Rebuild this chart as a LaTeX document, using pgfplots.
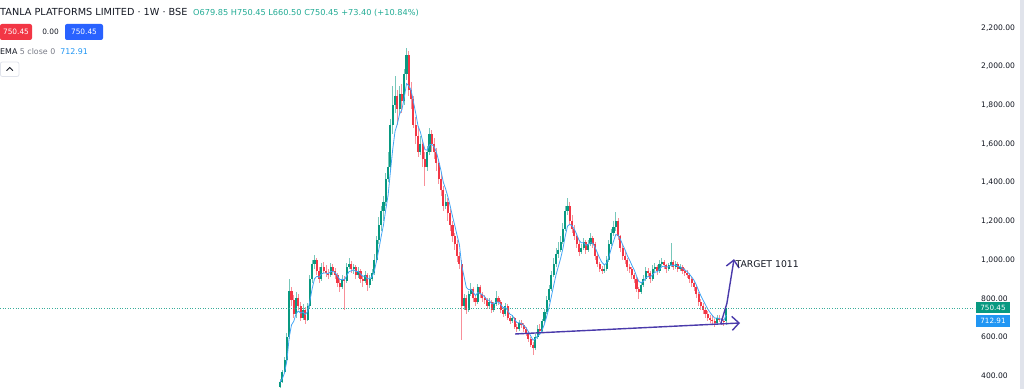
\documentclass[border=0pt]{standalone}
\usepackage{pgfplots}
\pgfplotsset{compat=1.18}
\usepackage{pgfplotstable}
\usepackage{fontspec}
\setmainfont{DejaVu Sans}
\usetikzlibrary{arrows.meta}
\definecolor{cgreen}{HTML}{089981}
\definecolor{cred}{HTML}{F23645}
\definecolor{tvtext}{HTML}{131722}
\definecolor{tvgray}{HTML}{787B86}
\definecolor{ohlc}{HTML}{22AB94}
\definecolor{emablue}{HTML}{42A5F5}
\definecolor{boxblue}{HTML}{2962FF}
\definecolor{lblblue}{HTML}{2196F3}
\definecolor{strip}{HTML}{E0E3EB}
\definecolor{pen}{HTML}{4A3AAB}

\pgfplotstableread{
o h l c e
340 380 335 365 365
365 430 360 420 383
420 495 415 480 415
480 620 470 600 477
600 900 590 840 598
840 860 760 790 662
790 815 700 720 681
720 830 700 800 721
800 820 740 760 734
760 780 680 700 723
700 770 690 740 729
740 755 665 690 716
690 775 680 760 731
760 920 750 900 787
900 1000 880 980 851
980 1025 950 1000 901
1000 1010 920 940 914
940 960 880 900 909
900 985 890 960 926
960 990 930 940 931
940 970 910 930 931
930 950 900 920 927
920 985 910 960 938
960 975 920 940 939
940 955 900 920 933
920 930 860 880 915
880 895 830 860 897
860 920 850 900 898
900 915 740 890 895
890 985 880 960 917
960 1010 950 980 938
980 995 930 950 942
950 975 925 960 948
960 970 900 920 939
920 960 905 940 939
940 950 880 900 926
900 915 860 890 914
890 940 880 920 916
920 930 840 870 901
870 920 855 900 901
900 950 890 930 911
930 1030 920 1000 941
1000 1120 990 1100 994
1100 1220 1080 1180 1056
1180 1280 1150 1250 1121
1250 1330 1200 1300 1181
1300 1450 1280 1420 1261
1420 1560 1400 1480 1334
1480 1730 1460 1700 1456
1700 1900 1650 1800 1571
1800 1950 1760 1850 1664
1850 1880 1700 1780 1703
1780 1900 1750 1860 1755
1860 1910 1760 1820 1777
1820 1990 1800 1960 1838
1960 2095 1930 2060 1912
2060 2080 1850 1880 1901
1880 1920 1780 1830 1877
1830 1850 1680 1700 1818
1700 1740 1600 1640 1759
1640 1680 1530 1560 1693
1560 1640 1540 1600 1662
1600 1620 1480 1520 1615
1520 1560 1380 1480 1570
1480 1590 1460 1560 1567
1560 1680 1540 1650 1595
1650 1670 1560 1600 1597
1600 1630 1520 1560 1585
1560 1580 1460 1500 1557
1500 1520 1390 1420 1511
1420 1450 1330 1360 1461
1360 1380 1250 1280 1401
1280 1340 1260 1300 1367
1300 1320 1200 1240 1325
1240 1260 1150 1180 1277
1180 1200 1090 1120 1225
1120 1140 1050 1080 1177
1080 1100 990 1020 1125
1020 1040 950 980 1077
980 1000 585 760 971
760 820 740 800 914
800 815 720 740 856
740 840 730 820 844
820 880 810 850 846
850 860 780 800 831
800 815 760 780 814
780 875 770 860 829
860 870 800 820 826
820 830 780 800 817
800 815 770 790 808
790 800 745 760 792
760 800 750 780 788
780 790 725 740 772
740 780 730 770 771
770 840 760 800 781
800 810 765 780 781
780 790 725 740 767
740 750 705 720 751
720 775 710 760 754
760 770 690 700 736
700 710 665 680 717
680 715 670 700 711
700 705 640 650 691
650 665 625 640 674
640 690 630 670 673
670 685 645 660 669
660 670 625 640 659
640 650 605 620 646
620 630 575 590 627
590 600 545 560 605
560 575 505 540 583
540 615 530 600 589
600 660 590 640 606
640 665 615 630 614
630 695 625 680 636
680 745 670 730 667
730 810 720 790 708
790 870 780 850 755
850 940 840 920 810
920 1010 910 980 867
980 1060 960 1030 921
1030 1090 1010 1050 964
1050 1120 1040 1090 1006
1090 1190 1080 1160 1057
1160 1280 1150 1250 1121
1250 1320 1230 1280 1174
1280 1300 1180 1200 1183
1200 1230 1140 1160 1175
1160 1180 1100 1120 1157
1120 1140 1060 1080 1131
1080 1100 1020 1040 1101
1040 1080 1030 1060 1087
1060 1110 1050 1090 1088
1090 1100 1030 1050 1075
1050 1100 1040 1080 1077
1080 1140 1070 1110 1088
1110 1120 1060 1080 1085
1080 1090 1000 1020 1063
1020 1030 960 980 1035
980 990 935 950 1007
950 965 925 940 985
940 970 930 950 973
950 1020 940 1000 982
1000 1100 990 1080 1015
1080 1160 1070 1140 1057
1140 1200 1120 1170 1095
1170 1245 1150 1200 1130
1200 1215 1100 1120 1127
1120 1130 1040 1060 1105
1060 1080 1000 1020 1077
1020 1040 980 1000 1051
1000 1010 940 960 1021
960 975 930 950 997
950 960 900 920 971
920 930 880 900 947
900 910 830 850 915
850 860 795 830 887
830 880 820 870 881
870 920 860 900 887
900 960 890 940 905
940 955 910 930 913
930 940 880 900 909
900 970 890 950 923
950 985 935 960 935
960 970 920 940 937
940 1000 930 980 951
980 1010 965 990 964
990 1000 950 970 966
970 975 930 950 961
950 985 940 970 964
970 1085 960 990 973
990 1000 945 960 969
960 995 950 980 973
980 990 935 950 965
950 975 940 960 963
960 970 925 940 955
940 955 915 930 947
930 945 905 920 938
920 930 880 900 925
900 910 860 880 910
880 890 840 860 893
860 870 800 820 869
820 830 760 780 839
780 795 740 760 813
760 775 720 740 789
740 755 700 720 766
720 735 680 700 744
700 715 670 690 726
690 710 660 680 711
680 695 650 670 697
670 715 660 700 698
700 715 675 690 695
690 700 660 680 690
680 695 655 677.05 686
679.85 750.45 660.5 750.45 713
}\candles

\begin{document}
\begin{tikzpicture}[x=1pt,y=1pt]
\useasboundingbox (0,0) rectangle (1024,389);
\fill[strip] (1020,0) rectangle (1024,389);
\begin{axis}[
  at={(0,0)}, anchor=south west, scale only axis,
  width=975pt, height=389pt,
  xmin=-121.74, xmax=302.17, ymin=330, ymax=2345,
  axis line style={draw=none}, tick style={draw=none},
  major tick length=0pt,
  xtick=\empty,
  ytick={400,600,...,2200},
  yticklabel pos=right,
  yticklabel style={anchor=west, xshift=6pt, inner sep=0pt, font=\fontsize{7.6}{9}\selectfont, text=tvtext},
  /pgf/number format/.cd, fixed, fixed zerofill, precision=2, 1000 sep={,}, assume math mode=true,
]
\pgfplotsset{candle/.style={only marks, mark=*, mark size=0pt, mark options={draw opacity=0, fill opacity=0}, forget plot}}
% wicks
\addplot[candle, error bars/.cd, y dir=both, y explicit, error mark=none,
  error bar style={line width=0.9pt, draw=cgreen!55}]
  table[x expr=\coordindex, y expr={\thisrow{c}>=\thisrow{o} ? \thisrow{c} : nan},
        y error plus expr=\thisrow{h}-\thisrow{c}, y error minus expr=\thisrow{c}-\thisrow{l}] {\candles};
\addplot[candle, error bars/.cd, y dir=both, y explicit, error mark=none,
  error bar style={line width=0.9pt, draw=cred!55}]
  table[x expr=\coordindex, y expr={\thisrow{c}<\thisrow{o} ? \thisrow{c} : nan},
        y error plus expr=\thisrow{h}-\thisrow{c}, y error minus expr=\thisrow{c}-\thisrow{l}] {\candles};
% bodies
\addplot[candle, error bars/.cd, y dir=both, y explicit, error mark=none,
  error bar style={line width=2.1pt, draw=cgreen}]
  table[x expr=\coordindex, y expr={\thisrow{c}>=\thisrow{o} ? \thisrow{c} : nan},
        y error plus expr=0, y error minus expr=\thisrow{c}-\thisrow{o}] {\candles};
\addplot[candle, error bars/.cd, y dir=both, y explicit, error mark=none,
  error bar style={line width=2.1pt, draw=cred}]
  table[x expr=\coordindex, y expr={\thisrow{c}<\thisrow{o} ? \thisrow{c} : nan},
        y error plus expr=\thisrow{o}-\thisrow{c}, y error minus expr=0] {\candles};
% EMA 5
\addplot[emablue, line width=0.8pt, mark=none] table[x expr=\coordindex, y=e] {\candles};
% last price line
\addplot[cgreen!80, dotted, line width=0.6pt, mark=none] coordinates {(-121.74,750.45) (302.17,750.45)};
% drawings
\addplot[pen, line width=1.4pt, mark=none, -{Straight Barb[length=7pt,width=14pt]}] coordinates {(102.2,615) (200,672)};
\addplot[pen, line width=1.4pt, mark=none, -{Straight Barb[length=7pt,width=13pt]}] coordinates {(191.6,667) (194.3,774) (197.4,1003)};
\node[anchor=west, inner sep=0pt, font=\fontsize{9.3}{11}\selectfont, text=tvtext] at (axis cs:198,977) {TARGET 1011};
\end{axis}
% header
\node[anchor=base west, inner sep=0pt, font=\fontsize{9.7}{11}\selectfont, text=tvtext] at (0,373) {TANLA PLATFORMS LIMITED · 1W · BSE};
\node[anchor=base west, inner sep=0pt, font=\fontsize{8.2}{10}\selectfont, text=ohlc] at (193,373.3) {O679.85 H750.45 L660.50 C750.45 +73.40 (+10.84\%)};
\fill[cred, rounded corners=2pt] (0,349) rectangle (32,365);
\node[font=\fontsize{7.4}{9}\selectfont, text=white, inner sep=0pt] at (16,357) {750.45};
\node[font=\fontsize{7.4}{9}\selectfont, text=tvtext, inner sep=0pt] at (50.5,357) {0.00};
\fill[boxblue, rounded corners=2pt] (65,349) rectangle (103,365);
\node[font=\fontsize{7.4}{9}\selectfont, text=white, inner sep=0pt] at (84,357) {750.45};
\node[anchor=base west, inner sep=0pt, font=\fontsize{7.9}{9}\selectfont] at (0,334) {\textcolor{tvtext}{EMA} \textcolor{tvgray}{5 close 0}\hspace{5pt}\textcolor{lblblue}{712.91}};
\draw[strip, line width=0.8pt, rounded corners=2pt] (0.4,312.5) rectangle (19,327);
\draw[tvtext, line width=0.8pt] (6.5,318.3) -- (9.7,321.5) -- (12.9,318.3);
% price labels
\fill[cgreen] (976,75.7) rectangle (1010,86.7);
\node[font=\fontsize{7.2}{9}\selectfont, text=white, inner sep=0pt] at (993,81.2) {750.45};
\fill[lblblue] (976,62.3) rectangle (1010,74);
\node[font=\fontsize{7.2}{9}\selectfont, text=white, inner sep=0pt] at (993,68.2) {712.91};
\end{tikzpicture}
\end{document}
